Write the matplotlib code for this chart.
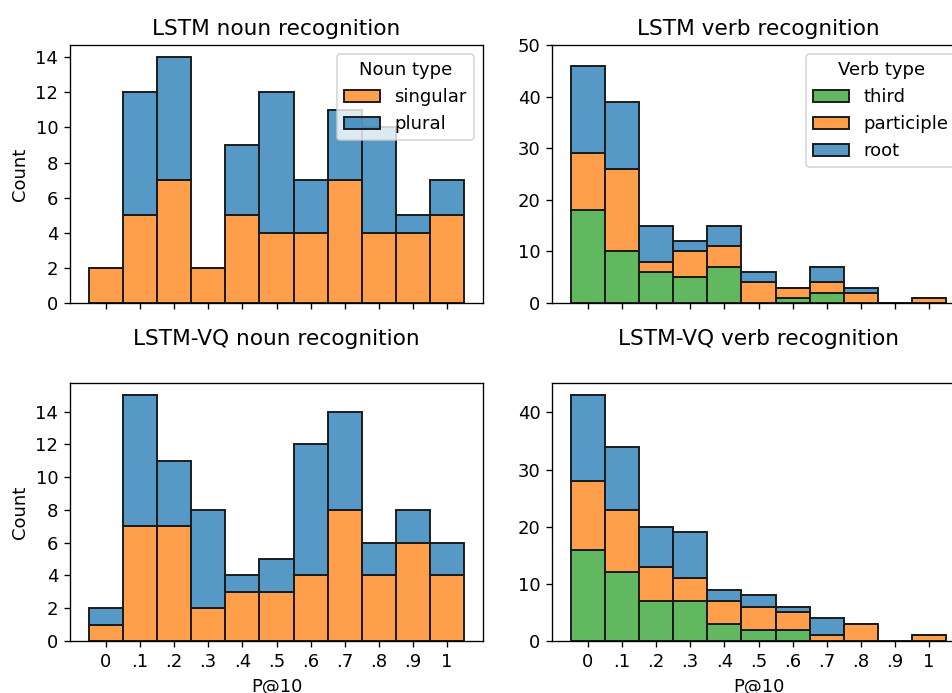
import matplotlib
matplotlib.use("Agg")
import matplotlib.pyplot as plt
from matplotlib.patches import Patch
from matplotlib.ticker import MultipleLocator
from matplotlib.colors import to_rgba
import numpy as np

bins = [0.0, 0.1, 0.2, 0.3, 0.4, 0.5, 0.6, 0.7, 0.8, 0.9, 1.0]
tick_labels = ["0", ".1", ".2", ".3", ".4", ".5", ".6", ".7", ".8", ".9", "1"]

lstm_noun_singular = [2, 5, 7, 2, 5, 4, 4, 7, 4, 4, 5]
lstm_noun_plural = [0, 7, 7, 0, 4, 8, 3, 4, 6, 1, 2]
vq_noun_singular = [1, 7, 7, 2, 3, 3, 4, 8, 4, 6, 4]
vq_noun_plural = [1, 8, 4, 6, 1, 2, 8, 6, 2, 2, 2]

lstm_verb_third = [18, 10, 6, 5, 7, 0, 1, 2, 0, 0, 0]
lstm_verb_participle = [11, 16, 2, 5, 4, 4, 2, 2, 2, 0, 1]
lstm_verb_root = [17, 13, 7, 2, 4, 2, 0, 3, 1, 0, 0]
vq_verb_third = [16, 12, 7, 7, 3, 2, 2, 0, 0, 0, 0]
vq_verb_participle = [12, 11, 6, 4, 4, 4, 3, 1, 3, 0, 1]
vq_verb_root = [15, 11, 7, 8, 2, 2, 1, 3, 0, 0, 0]

C_BLUE = "#1f77b4"
C_ORANGE = "#ff7f0e"
C_GREEN = "#2ca02c"
ALPHA = 0.75
EDGE = "#1a1a1a"
LW = 1.15

plt.rcParams["font.size"] = 10.8

dpi = 120
W, H = 952, 693
fig = plt.figure(figsize=(W / dpi, H / dpi), dpi=dpi)


def add_ax(left, top, right, bottom):
    return fig.add_axes([left / W, 1 - bottom / H, (right - left) / W, (bottom - top) / H])


ax_tl = add_ax(70, 45, 483, 303)
ax_tr = add_ax(552, 45, 965, 303)
ax_bl = add_ax(70, 383, 483, 641)
ax_br = add_ax(552, 383, 965, 641)


def stacked(ax, layers):
    x = np.array(bins)
    base = np.zeros(len(bins))
    for vals, color in layers:
        v = np.array(vals, dtype=float)
        ax.bar(x, v, width=0.1, bottom=base, align="center", color=to_rgba(color, ALPHA),
               edgecolor=EDGE, linewidth=LW)
        base = base + v
    ax.set_xticks(bins)
    ax.set_xlim(-0.105, 1.105)


def legend(ax, title, entries):
    handles = [Patch(facecolor=to_rgba(c, ALPHA), edgecolor=EDGE, linewidth=LW, label=l)
               for l, c in entries]
    ax.legend(handles=handles, title=title, loc="upper right")


stacked(ax_tl, [(lstm_noun_singular, C_ORANGE), (lstm_noun_plural, C_BLUE)])
stacked(ax_bl, [(vq_noun_singular, C_ORANGE), (vq_noun_plural, C_BLUE)])
stacked(ax_tr, [(lstm_verb_third, C_GREEN), (lstm_verb_participle, C_ORANGE), (lstm_verb_root, C_BLUE)])
stacked(ax_br, [(vq_verb_third, C_GREEN), (vq_verb_participle, C_ORANGE), (vq_verb_root, C_BLUE)])

ax_tr.set_ylim(0, 50)
for ax in (ax_tl, ax_bl):
    ax.yaxis.set_major_locator(MultipleLocator(2))
for ax in (ax_tr, ax_br):
    ax.yaxis.set_major_locator(MultipleLocator(10))

for ax in (ax_tl, ax_tr):
    ax.set_xticklabels([])
for ax in (ax_bl, ax_br):
    ax.set_xticklabels(tick_labels)
    ax.set_xlabel("P@10")
for ax in (ax_tl, ax_bl):
    ax.set_ylabel("Count")

ax_tl.set_title("LSTM noun recognition")
ax_tr.set_title("LSTM verb recognition")
ax_bl.set_title("LSTM-VQ noun recognition", pad=22.8)
ax_br.set_title("LSTM-VQ verb recognition", pad=22.8)

legend(ax_tl, "Noun type", [("singular", C_ORANGE), ("plural", C_BLUE)])
legend(ax_tr, "Verb type", [("third", C_GREEN), ("participle", C_ORANGE), ("root", C_BLUE)])

fig.savefig("out.png", dpi=dpi)
